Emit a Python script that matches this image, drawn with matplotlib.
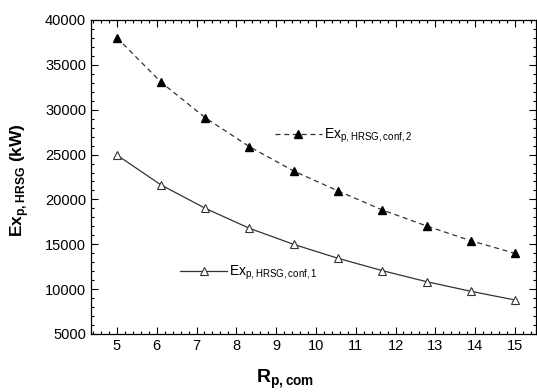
import matplotlib

matplotlib.use("Agg")
import matplotlib.pyplot as plt
from matplotlib.ticker import MultipleLocator

plt.rcParams["font.family"] = ["Liberation Sans", "DejaVu Sans"]
plt.rcParams["mathtext.fontset"] = "custom"
plt.rcParams["mathtext.rm"] = "Liberation Sans"
plt.rcParams["mathtext.bf"] = "Liberation Sans:bold"

# compressor pressure ratio
r_p_com = [5.0, 6.11, 7.22, 8.33, 9.44, 10.56, 11.67, 12.78, 13.89, 15.0]
# HRSG exergy, kW
ex_conf1 = [24950, 21610, 19010, 16780, 14990, 13430, 12060, 10830, 9760, 8790]
ex_conf2 = [38030, 33060, 29110, 25880, 23170, 20940, 18820, 17040, 15400, 13990]

label_conf1 = r"Ex$_{\mathrm{p,HRSG,conf,1}}$"
label_conf2 = r"Ex$_{\mathrm{p,HRSG,conf,2}}$"

fig = plt.figure(figsize=(5.37, 3.92), dpi=100)
ax = fig.add_axes([0.1695, 0.148, 0.8287, 0.801])

(l2,) = ax.plot(r_p_com, ex_conf2, color="#333333", linestyle=(0, (4, 3)), linewidth=0.9,
                marker="^", markersize=6, markerfacecolor="black", markeredgecolor="black")
(l1,) = ax.plot(r_p_com, ex_conf1, color="#333333", linestyle="-", linewidth=0.9,
                marker="^", markersize=6, markerfacecolor="white", markeredgecolor="#333333",
                markeredgewidth=0.8)

ax.set_xlim(4.35, 15.53)
ax.set_ylim(5000, 40000)
ax.xaxis.set_major_locator(MultipleLocator(1))
ax.xaxis.set_minor_locator(MultipleLocator(0.2))
ax.yaxis.set_major_locator(MultipleLocator(5000))
ax.yaxis.set_minor_locator(MultipleLocator(1000))
ax.tick_params(which="both", direction="in", top=True, right=True, labelsize=10.5, width=0.8)
ax.tick_params(which="major", length=5)
ax.tick_params(which="minor", length=2.5)
for sp in ax.spines.values():
    sp.set_linewidth(0.9)

ax.set_xlabel(r"R$_{\mathbf{p,com}}$", fontsize=14, fontweight="bold")
ax.set_ylabel(r"Ex$_{\mathbf{p,HRSG}}$ (kW)", fontsize=12.5, fontweight="bold")
ax.xaxis.set_label_coords(0.436, -0.108)
ax.yaxis.set_label_coords(-0.135, 0.49)

common = dict(frameon=False, fontsize=10, handlelength=3.4, handletextpad=0.15,
              borderpad=0, borderaxespad=0, loc="center left")
leg2 = ax.legend([l2], [label_conf2], bbox_to_anchor=(0.413, 0.631), **common)
ax.add_artist(leg2)
ax.legend([l1], [label_conf1], bbox_to_anchor=(0.2, 0.194), **common)

fig.savefig("out.png", dpi=100)
